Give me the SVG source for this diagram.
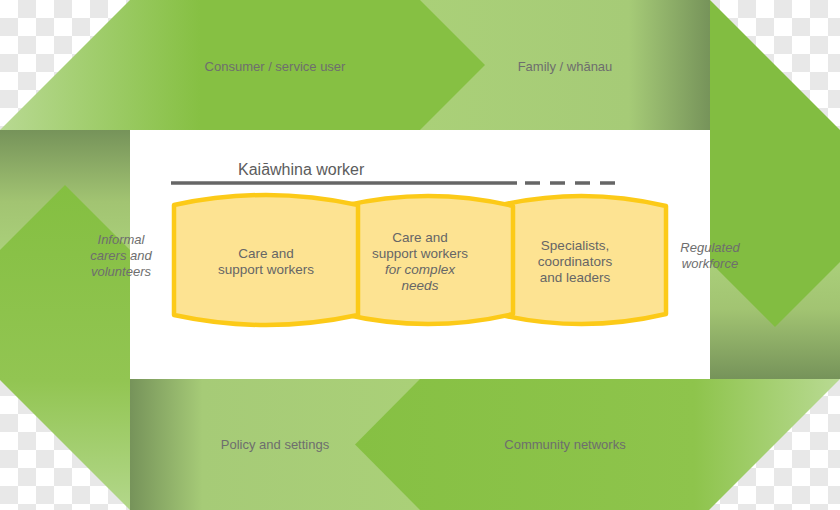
<svg xmlns="http://www.w3.org/2000/svg" width="840" height="510" viewBox="0 0 840 510">
<defs>
  <pattern id="checker" x="0" y="0" width="36" height="36" patternUnits="userSpaceOnUse">
    <rect width="36" height="36" fill="#ffffff"/>
    <rect x="18" y="0" width="18" height="18" fill="#e8e8e8"/>
    <rect x="0" y="18" width="18" height="18" fill="#e8e8e8"/>
  </pattern>
  <linearGradient id="gConsumer" gradientUnits="userSpaceOnUse" x1="0" y1="0" x2="200" y2="0">
    <stop offset="0" stop-color="#b8d992"/>
    <stop offset="1" stop-color="#86c043"/>
  </linearGradient>
  <linearGradient id="gFamily" gradientUnits="userSpaceOnUse" x1="420" y1="0" x2="710" y2="0">
    <stop offset="0" stop-color="#aad078"/>
    <stop offset="0.72" stop-color="#a6cb77"/>
    <stop offset="1" stop-color="#76935a"/>
  </linearGradient>
  <linearGradient id="gRight" gradientUnits="userSpaceOnUse" x1="0" y1="262" x2="0" y2="379">
    <stop offset="0" stop-color="#aacf7a"/>
    <stop offset="0.4" stop-color="#a2c472"/>
    <stop offset="1" stop-color="#76935a"/>
  </linearGradient>
  <linearGradient id="gCommunity" gradientUnits="userSpaceOnUse" x1="355" y1="0" x2="840" y2="0">
    <stop offset="0" stop-color="#86c043"/>
    <stop offset="0.7" stop-color="#8ec44c"/>
    <stop offset="1" stop-color="#b9da93"/>
  </linearGradient>
  <linearGradient id="gPolicy" gradientUnits="userSpaceOnUse" x1="130" y1="0" x2="420" y2="0">
    <stop offset="0" stop-color="#76935a"/>
    <stop offset="0.25" stop-color="#a6cb77"/>
    <stop offset="1" stop-color="#aad078"/>
  </linearGradient>
  <linearGradient id="gLeftTop" gradientUnits="userSpaceOnUse" x1="0" y1="130" x2="0" y2="250">
    <stop offset="0" stop-color="#76935a"/>
    <stop offset="0.6" stop-color="#a2c472"/>
    <stop offset="1" stop-color="#aacf7a"/>
  </linearGradient>
  <linearGradient id="gLeftArrow" gradientUnits="userSpaceOnUse" x1="0" y1="185" x2="0" y2="510">
    <stop offset="0" stop-color="#84bf41"/>
    <stop offset="0.6" stop-color="#92c552"/>
    <stop offset="1" stop-color="#b3d78b"/>
  </linearGradient>
  <style>
    .band { font-family: "Liberation Sans", Arial, sans-serif; font-size: 13px; fill: #6e6e6e; text-anchor: middle; }
    .side { font-family: "Liberation Sans", Arial, sans-serif; font-size: 13px; font-style: italic; fill: #6e6e6e; text-anchor: middle; }
    .box { fill: #fde392; stroke: #fcca18; stroke-width: 4.5; stroke-linejoin: round; }
    .boxtxt { font-family: "Liberation Sans", Arial, sans-serif; font-size: 13.5px; fill: #666666; text-anchor: middle; }
    .it { font-style: italic; }
  </style>
</defs>

<rect width="840" height="510" fill="url(#checker)"/>

<g id="frame">
  <rect id="center" x="130" y="130" width="580" height="249" fill="#ffffff"/>
  <g id="family">
    <rect x="420" y="0" width="290" height="130" fill="url(#gFamily)"/>
    <text class="band" x="565" y="71">Family / whānau</text>
  </g>
  <g id="consumer">
    <polygon points="130,0 420,0 485,65 420,130 0,130" fill="url(#gConsumer)"/>
    <text class="band" x="275" y="71">Consumer / service user</text>
  </g>
  <g id="regulated">
    <rect x="710" y="200" width="130" height="179" fill="url(#gRight)"/>
    <polygon points="710,0 840,130 840,262 775,327 710,262" fill="#82bd41"/>
  </g>
  <g id="policy">
    <rect x="130" y="379" width="290" height="131" fill="url(#gPolicy)"/>
    <text class="band" x="275" y="449">Policy and settings</text>
  </g>
  <g id="community">
    <polygon points="420,379 840,379 709,510 420,510 355,444.5" fill="url(#gCommunity)"/>
    <text class="band" x="565" y="449">Community networks</text>
  </g>
  <g id="informal">
    <rect x="0" y="130" width="130" height="130" fill="url(#gLeftTop)"/>
    <polygon points="0,250 65,185 130,250 130,510 0,380" fill="url(#gLeftArrow)"/>
  </g>
</g>

<g id="side-labels">
  <text class="side" x="121" y="244">Informal</text>
  <text class="side" x="121" y="260">carers and</text>
  <text class="side" x="121" y="276">volunteers</text>
  <text class="side" x="710" y="252">Regulated</text>
  <text class="side" x="710" y="268">workforce</text>
</g>

<g id="kaiawhina">
  <text x="238" y="175" font-family="Liberation Sans, Arial, sans-serif" font-size="16" fill="#5c5c5c">Kaiāwhina worker</text>
  <line x1="171" y1="183" x2="517" y2="183" stroke="#666666" stroke-width="3.5"/>
  <line x1="525" y1="183" x2="615" y2="183" stroke="#666666" stroke-width="3.5" stroke-dasharray="15 10"/>
</g>

<g id="specialists">
  <path class="box" d="M497,206 Q581.5,186 666,206 L666,314 Q581.5,334 497,314 Z"/>
  <text class="boxtxt" x="575" y="250">Specialists,</text>
  <text class="boxtxt" x="575" y="266">coordinators</text>
  <text class="boxtxt" x="575" y="282">and leaders</text>
</g>
<g id="complex">
  <path class="box" d="M343,206 Q428,186 513,206 L513,314 Q428,334 343,314 Z"/>
  <text class="boxtxt" x="420" y="242">Care and</text>
  <text class="boxtxt" x="420" y="258">support workers</text>
  <text class="boxtxt it" x="420" y="274">for complex</text>
  <text class="boxtxt it" x="420" y="290">needs</text>
</g>
<g id="care">
  <path class="box" d="M174,205 Q266,185 358,205 L358,315 Q266,335 174,315 Z"/>
  <text class="boxtxt" x="266" y="258">Care and</text>
  <text class="boxtxt" x="266" y="274">support workers</text>
</g>
</svg>
